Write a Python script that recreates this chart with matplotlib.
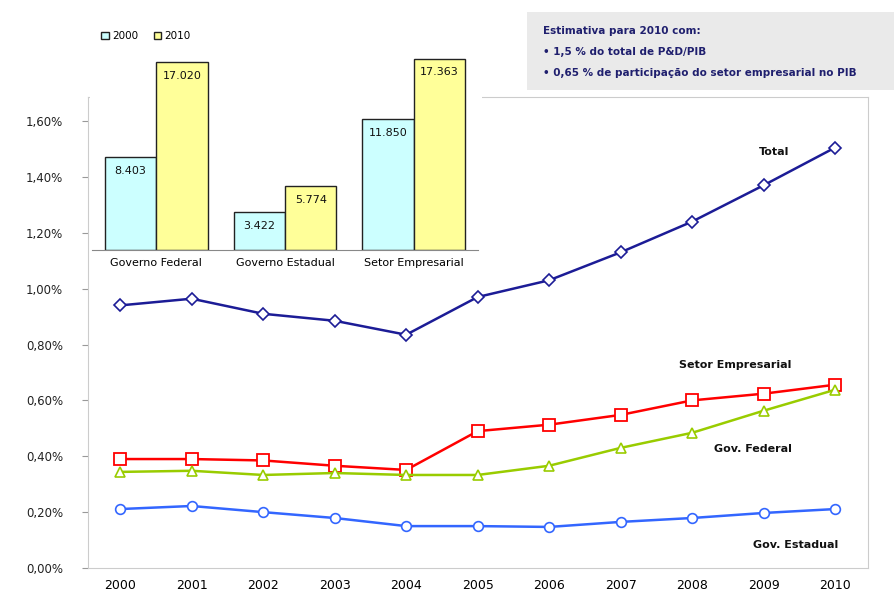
import matplotlib

matplotlib.use("Agg")
import matplotlib.pyplot as plt
from matplotlib.patches import Rectangle

# main line chart data (% of GDP)
years = [str(y) for y in range(2000, 2011)]
total = [0.94, 0.964, 0.91, 0.885, 0.835, 0.97, 1.03, 1.13, 1.24, 1.37, 1.505]
setor_empresarial = [0.39, 0.39, 0.385, 0.366, 0.351, 0.49, 0.513, 0.548, 0.60, 0.624, 0.656]
gov_federal = [0.344, 0.348, 0.333, 0.34, 0.333, 0.333, 0.366, 0.43, 0.484, 0.563, 0.638]
gov_estadual = [0.211, 0.222, 0.20, 0.179, 0.15, 0.15, 0.147, 0.165, 0.179, 0.197, 0.211]
y_ticks = [0.0, 0.2, 0.4, 0.6, 0.8, 1.0, 1.2, 1.4, 1.6]

# inset bar chart data (R$ million)
bar_categories = ["Governo Federal", "Governo Estadual", "Setor Empresarial"]
bar_2000 = [8403, 3422, 11850]
bar_2010 = [17020, 5774, 17363]
bar_2000_labels = ["8.403", "3.422", "11.850"]
bar_2010_labels = ["17.020", "5.774", "17.363"]

W, H = 895, 595
fig = plt.figure(figsize=(W / 100, H / 100), dpi=100)


def fx(px):
    return px / W


def fy(py):
    return 1 - py / H


ax = fig.add_axes([fx(88), fy(568), fx(868) - fx(88), fy(97) - fy(568)])
ax.set_zorder(1)
x = list(range(len(years)))

ax.plot(x, total, color="#1c1c96", lw=1.8, marker="D", ms=6, mfc="white", mew=1.2)
ax.plot(x, setor_empresarial, color="#ff0000", lw=1.8, marker="s", ms=8, mfc="white", mew=1.3)
ax.plot(x, gov_federal, color="#99cc00", lw=1.8, marker="^", ms=7, mfc="white", mew=1.2)
ax.plot(x, gov_estadual, color="#3366ff", lw=1.8, marker="o", ms=7, mfc="white", mew=1.2)

ax.set_xlim(-0.45, 10.46)
ax.set_ylim(0, 1.686)
ax.set_xticks(x)
ax.set_xticklabels(years, fontsize=9)
ax.set_yticks(y_ticks)
ax.set_yticklabels([f"{v:.2f}%".replace(".", ",") for v in y_ticks], fontsize=8.5,
                   color="#222222")
ax.tick_params(axis="y", length=4, color="#999999", pad=14)
ax.tick_params(axis="x", length=0, pad=8)
for side in ["left", "bottom", "right", "top"]:
    ax.spines[side].set_color("#cccccc")

label_kw = dict(fontsize=8, fontweight="bold", color="#111111", ha="center")
ax.text(9.15, 1.48, "Total", **label_kw)
ax.text(8.6, 0.715, "Setor Empresarial", **label_kw)
ax.text(8.85, 0.415, "Gov. Federal", **label_kw)
ax.text(9.45, 0.07, "Gov. Estadual", **label_kw)

# white panel behind the inset
panel = Rectangle((fx(90), fy(288)), fx(482) - fx(90), fy(30) - fy(288),
                  transform=fig.transFigure, facecolor="white", edgecolor="none",
                  zorder=2)
fig.patches.append(panel)

inset = fig.add_axes([fx(92), fy(250), fx(478) - fx(92), fy(35) - fy(250)])
inset.set_zorder(3)
inset.set_facecolor("white")
bx = list(range(len(bar_categories)))
bw = 0.4
b1 = inset.bar([i - bw / 2 for i in bx], bar_2000, width=bw, color="#ccffff",
               edgecolor="#222222", lw=1.0, label="2000")
b2 = inset.bar([i + bw / 2 for i in bx], bar_2010, width=bw, color="#ffff99",
               edgecolor="#222222", lw=1.0, label="2010")
for rect, lab in zip(b1, bar_2000_labels):
    inset.text(rect.get_x() + rect.get_width() / 2, rect.get_height() - 1200, lab,
               ha="center", va="center", fontsize=8, color="#111111")
for rect, lab in zip(b2, bar_2010_labels):
    inset.text(rect.get_x() + rect.get_width() / 2, rect.get_height() - 1200, lab,
               ha="center", va="center", fontsize=8, color="#111111")
inset.set_xlim(-0.5, 2.5)
inset.set_ylim(0, 19500)
inset.set_xticks(bx)
inset.set_xticklabels(bar_categories, fontsize=8)
inset.tick_params(axis="x", length=0, pad=6)
inset.set_yticks([])
for side in ["top", "right", "left"]:
    inset.spines[side].set_visible(False)
inset.spines["bottom"].set_color("#888888")
inset.legend(loc="upper left", bbox_to_anchor=(0.0, 1.06), ncol=2, frameon=False,
             fontsize=7.5, handlelength=0.7, handleheight=0.7, columnspacing=1.5,
             handletextpad=0.3)

# estimate box top right
box = Rectangle((fx(527), fy(90)), fx(895) - fx(527), fy(12) - fy(90),
                transform=fig.transFigure, facecolor="#eaeaea", edgecolor="none", zorder=2)
fig.patches.append(box)
note_kw = dict(fontsize=7.5, fontweight="bold", color="#1f1f6e", zorder=4)
fig.text(fx(543), fy(31), "Estimativa para 2010 com:", va="center", **note_kw)
fig.text(fx(543), fy(52), "• 1,5 % do total de P&D/PIB", va="center", **note_kw)
fig.text(fx(543), fy(73), "• 0,65 % de participação do setor empresarial no PIB", va="center", **note_kw)

fig.savefig("out.png", dpi=100)
